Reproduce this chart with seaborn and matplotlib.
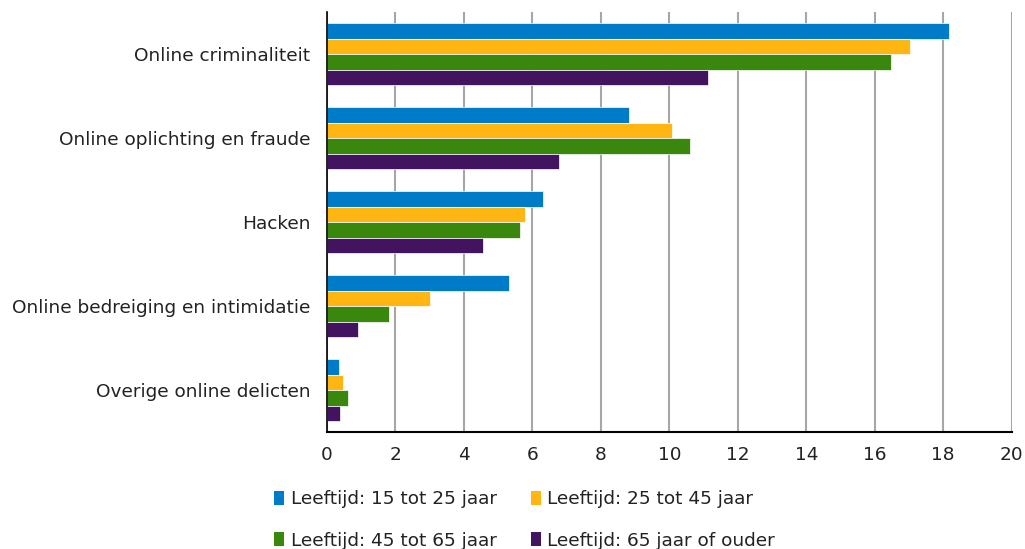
import numpy as np
import pandas as pd
import matplotlib.pyplot as plt
import seaborn as sns
from matplotlib.patches import Patch

sns.set_style("white")
plt.rcParams['font.family'] = ['DejaVu Sans']

# data (percentages)
categories = ["Online criminaliteit", "Online oplichting en fraude", "Hacken",
              "Online bedreiging en intimidatie", "Overige online delicten"]
groups = ["Leeftijd: 15 tot 25 jaar", "Leeftijd: 25 tot 45 jaar",
          "Leeftijd: 45 tot 65 jaar", "Leeftijd: 65 jaar of ouder"]
age_15_25 = [18.17, 8.81, 6.30, 5.32, 0.34]
age_25_45 = [17.04, 10.09, 5.77, 3.02, 0.48]
age_45_65 = [16.47, 10.61, 5.64, 1.80, 0.62]
age_65_plus = [11.14, 6.78, 4.55, 0.90, 0.37]

colors = ["#007BC7", "#FFB612", "#39870C", "#42145F"]

rows = []
for g, vals in zip(groups, [age_15_25, age_25_45, age_45_65, age_65_plus]):
    for c, v in zip(categories, vals):
        rows.append({"categorie": c, "groep": g, "waarde": v})
df = pd.DataFrame(rows)

fig = plt.figure(figsize=(10.25, 5.49), dpi=100)
ax = fig.add_axes([0.319, 0.213, 0.668, 0.765])

sns.barplot(data=df, y="categorie", x="waarde", hue="groep", order=categories,
            hue_order=groups, palette=colors, orient="h", width=0.74,
            saturation=1, edgecolor="white", linewidth=0.5, ax=ax, legend=False)

ax.set_xlim(0, 20)
ax.set_xticks(np.arange(0, 21, 2))
ax.set_ylim(4.5, -0.5)
ax.set_xlabel("")
ax.set_ylabel("")
ax.xaxis.grid(True, color="#a6a6a6", linewidth=1.5)
ax.set_axisbelow(True)
for s in ["top", "right"]:
    ax.spines[s].set_visible(False)
ax.spines["left"].set_color("black")
ax.spines["bottom"].set_color("black")
ax.spines["left"].set_linewidth(1.2)
ax.spines["bottom"].set_linewidth(1.5)
ax.tick_params(axis="both", length=0, labelsize=13.3, colors="#222222")
ax.tick_params(axis="x", pad=10)
ax.tick_params(axis="y", pad=12)

# legend filled row by row like the reference
order = [0, 2, 1, 3]
handles = [Patch(facecolor=colors[i], edgecolor="none") for i in order]
labels = [groups[i] for i in order]
fig.legend(handles, labels, loc="upper left", bbox_to_anchor=(0.251, 0.137),
           ncol=2, frameon=False, fontsize=13.3, handlelength=0.55,
           handleheight=0.85, handletextpad=0.35, columnspacing=1.85,
           labelspacing=1.25, labelcolor="#222222")

fig.savefig("out.png", dpi=100)
